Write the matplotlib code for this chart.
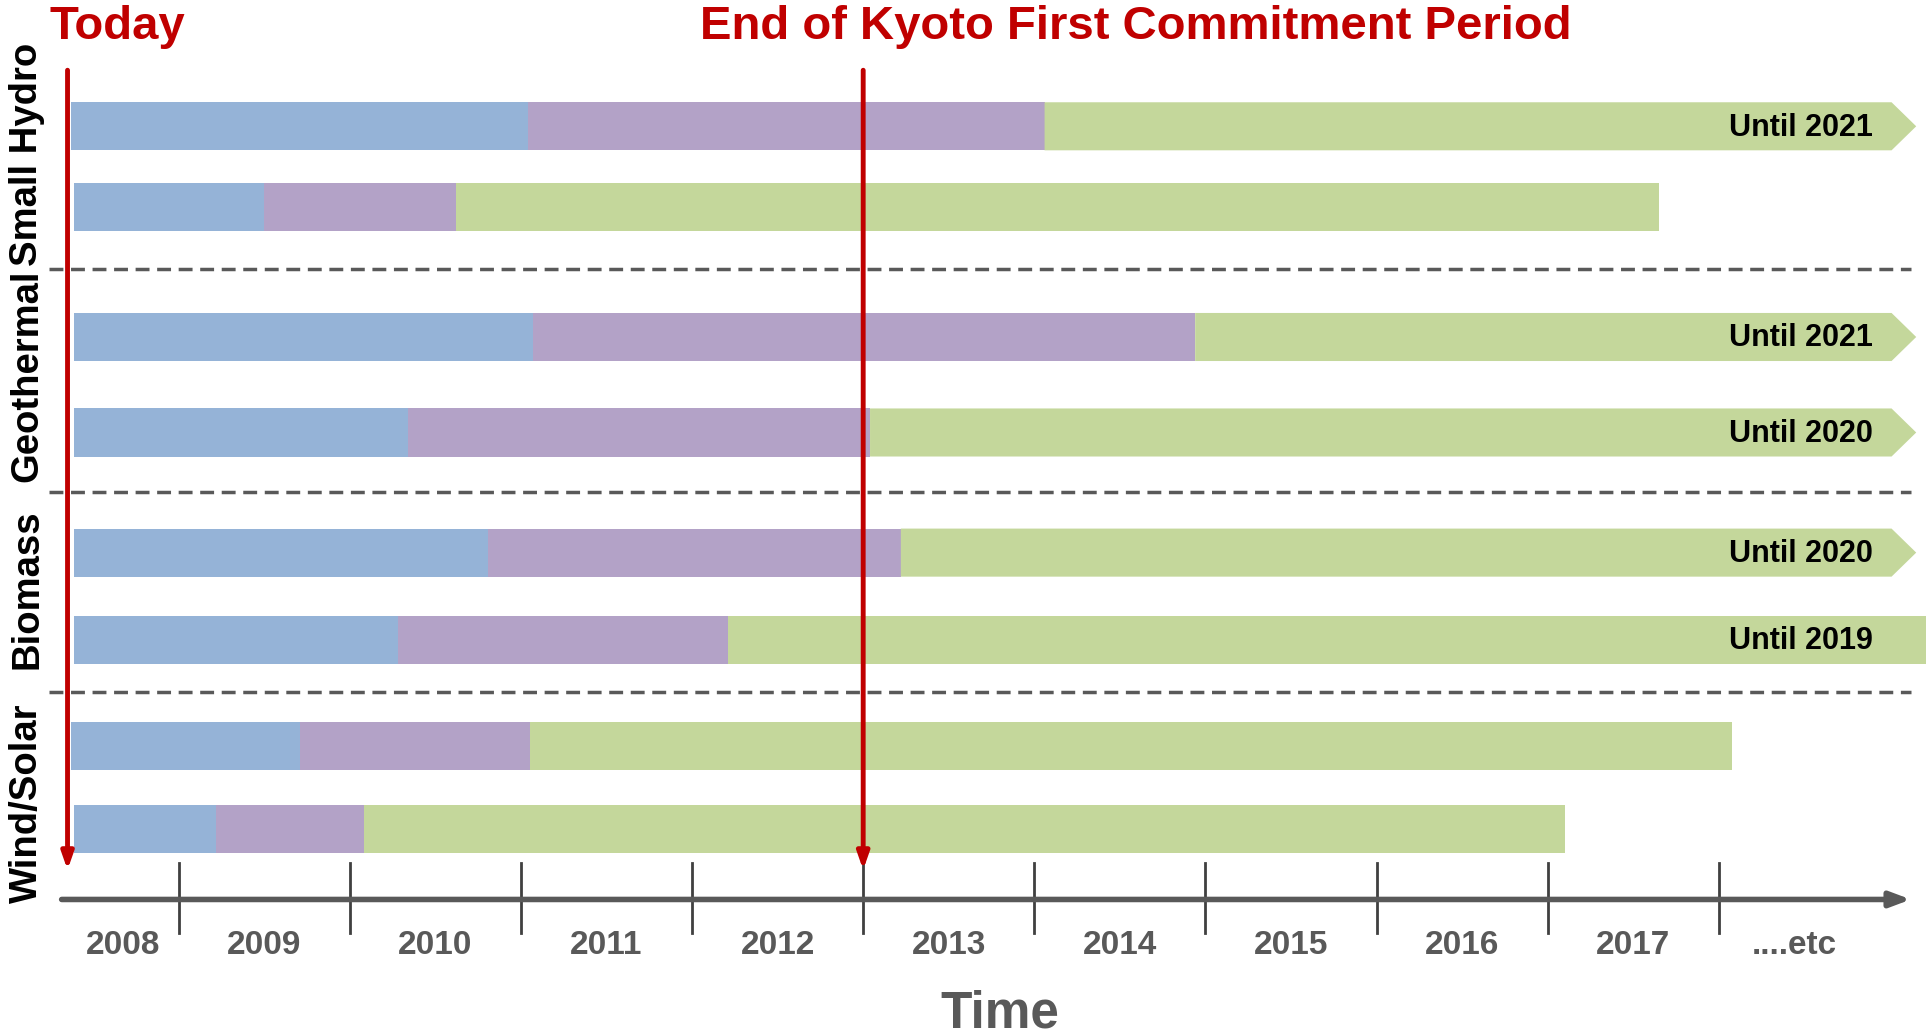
import matplotlib
matplotlib.use("Agg")
import matplotlib.pyplot as plt
from matplotlib.patches import Rectangle, Polygon

# ---- data (x in years) ----
group_names = ["Small Hydro", "Geothermal", "Biomass", "Wind/Solar"]
bar_start = [2008.37, 2008.39, 2008.39, 2008.39, 2008.39, 2008.39, 2008.37, 2008.39]
blue_end = [2011.04, 2009.50, 2011.07, 2010.34, 2010.81, 2010.28, 2009.71, 2009.22]
purple_end = [2014.06, 2010.62, 2014.94, 2013.04, 2013.22, 2012.21, 2011.05, 2010.08]
green_end = [2019.01, 2017.65, 2019.01, 2019.01, 2019.01, 2019.21, 2018.08, 2017.10]
open_ended = [True, False, True, True, True, False, False, False]
end_labels = ["Until 2021", "", "Until 2021", "Until 2020", "Until 2020", "Until 2019", "", ""]

today = 2008.35
kyoto_end = 2013.0
tick_years = [2009, 2010, 2011, 2012, 2013, 2014, 2015, 2016, 2017, 2018]
year_labels = ["2008", "2009", "2010", "2011", "2012", "2013", "2014", "2015", "2016", "2017", "....etc"]

# ---- layout (vertical units = reference pixels, 840 high) ----
row_y = [102.5, 168, 273.5, 351, 448.5, 519.5, 605.5, 672.5]
bar_h = 39
sep_y = [218, 399, 562]
group_y = [125, 305, 478, 652]

BLUE = "#95B3D7"
PURPLE = "#B3A2C7"
GREEN = "#C4D79B"
RED = "#C00000"
GRAY = "#595959"

NARROW = ["Liberation Sans Narrow", "Liberation Sans", "DejaVu Sans"]
SANS = ["Liberation Sans", "DejaVu Sans"]

fig = plt.figure(figsize=(19.33, 10.35), dpi=100)
ax = fig.add_axes([0, 0, 1, 1])
px_per_year = 138.8
x0 = 2009 - 145 / px_per_year
ax.set_xlim(x0, x0 + 1568 / px_per_year)
ax.set_ylim(840, 0)
ax.axis("off")

tip = 20 / px_per_year
for i, y in enumerate(row_y):
    top, bot = y - bar_h / 2, y + bar_h / 2
    ax.add_patch(Rectangle((bar_start[i], top), blue_end[i] - bar_start[i], bar_h,
                           color=BLUE, lw=0))
    ax.add_patch(Rectangle((blue_end[i], top), purple_end[i] - blue_end[i], bar_h,
                           color=PURPLE, lw=0))
    if open_ended[i]:
        pts = [(purple_end[i], top), (green_end[i], top), (green_end[i] + tip, y),
               (green_end[i], bot), (purple_end[i], bot)]
        ax.add_patch(Polygon(pts, closed=True, color=GREEN, lw=0))
    else:
        ax.add_patch(Rectangle((purple_end[i], top), green_end[i] - purple_end[i], bar_h,
                               color=GREEN, lw=0))
    if end_labels[i]:
        ax.text(2018.9, y + 1, end_labels[i], ha="right", va="center",
                fontsize=22, fontweight="bold", family=SANS, color="black")

# group separators
for y in sep_y:
    ax.plot([x0 + 40 / px_per_year, x0 + 1550 / px_per_year], [y, y],
            color=GRAY, lw=2.5, ls=(0, (4, 2.2)))

# group labels
for name, y in zip(group_names, group_y):
    ax.text(x0 + 22 / px_per_year, y, name, rotation=90, ha="center", va="center",
            fontsize=27.5, fontweight="bold", family=SANS, color="black")

# time axis
ax.annotate("", xy=(x0 + 1550 / px_per_year, 730), xytext=(x0 + 50 / px_per_year, 730),
            arrowprops=dict(arrowstyle="-|>,head_length=1.2,head_width=0.45",
                            color=GRAY, lw=4, shrinkA=0, shrinkB=0))
for t in tick_years:
    ax.plot([t, t], [700, 757], color="#404040", lw=2)

bounds = [today] + tick_years + [2018.88]
for k, lab in enumerate(year_labels):
    xc = (bounds[k] + bounds[k + 1]) / 2
    ax.text(xc, 767, lab, ha="center", va="center", fontsize=24, fontweight="bold",
            family=NARROW, color=GRAY)

ax.text(2013.8, 823, "Time", ha="center", va="center", fontsize=37,
        fontweight="bold", family=SANS, color=GRAY)

# today / kyoto markers
for xm in [today, kyoto_end]:
    ax.annotate("", xy=(xm, 706), xytext=(xm, 57),
                arrowprops=dict(arrowstyle="-|>,head_length=1.0,head_width=0.35",
                                color=RED, lw=3.5, shrinkA=0, shrinkB=0))

ax.text(x0 + 40 / px_per_year, 22, "Today", ha="left", va="center", fontsize=34,
        fontweight="bold", family=SANS, color=RED)
ax.text(x0 + 568 / px_per_year, 22, "End of Kyoto First Commitment Period", ha="left",
        va="center", fontsize=34, fontweight="bold", family=SANS, color=RED)

fig.savefig("out.png", dpi=100)
